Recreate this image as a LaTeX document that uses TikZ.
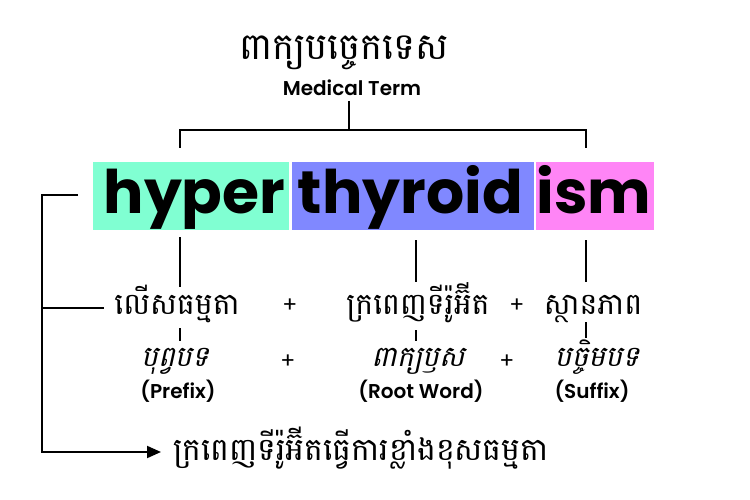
\documentclass[tikz,border=0pt]{standalone}
\usepackage{fontspec}
\setmainfont{Poppins}
\newfontfamily\popsb{Poppins}[UprightFont={* SemiBold}]
\newfontfamily\khmer[Script=Khmer]{Battambang}
\newfontfamily\khmersl[Script=Khmer,FakeSlant=0.22]{Battambang}
\usetikzlibrary{arrows.meta}
\definecolor{cgreen}{HTML}{80FFD2}
\definecolor{cblue}{HTML}{8088FF}
\definecolor{cpink}{HTML}{FF85F6}
\tikzset{
 segbox/.style={rectangle, inner sep=0pt, minimum height=68pt},
 big/.style={inner sep=0pt, anchor=base, font=\fontsize{60}{60}\selectfont\bfseries},
 kh/.style={inner sep=0pt, anchor=base, font=\khmer\fontsize{30}{30}\selectfont},
 khs/.style={inner sep=0pt, anchor=base, font=\khmersl\fontsize{28.5}{28.5}\selectfont},
 lbl/.style={inner sep=0pt, anchor=base, font=\popsb\fontsize{20}{20}\selectfont},
 plus/.style={inner sep=0pt, anchor=center, font=\fontsize{22}{22}\selectfont},
 ln/.style={line width=2pt},
}
\begin{document}
\begin{tikzpicture}[x=1pt,y=-1pt]
\useasboundingbox (0,0) rectangle (750,500);
% title
\node[kh, font=\khmer\fontsize{37}{37}\selectfont] (title) at (344,60) {ពាក្យបច្ចេកទេស};
\node[lbl, font=\popsb\fontsize{20}{20}\selectfont] (mt) at (352,96) {Medical Term};
% boxes
\node[segbox, fill=cgreen, minimum width=196pt] (bg) at (191,196) {};
\node[segbox, fill=cblue, minimum width=242pt] (bb) at (413,196) {};
\node[segbox, fill=cpink, minimum width=118pt] (bp) at (595,196) {};
\node[big] (hyper) at (194.5,214) {hyper};
\node[big] (thy) at (410.5,214) {thyroid};
\node[big] (ism) at (594,214) {ism};
% line 1
\node[kh] (k1) at (177,314) {លើសធម្មតា};
\node[plus] (p1) at (290,306) {+};
\node[kh] (k2) at (418,314) {ក្រពេញទីរ៉ូអ៊ីត};
\node[plus] (p2) at (517,306) {+};
\node[kh] (k3) at (593,314) {ស្ថានភាព};
% line 2
\node[khs] (s1) at (175,366) {បុព្វបទ};
\node[plus] (p3) at (288,362) {+};
\node[khs] (s2) at (418,366) {ពាក្យឫស};
\node[plus] (p4) at (507,362) {+};
\node[khs] (s3) at (597,366) {បច្ចិមបទ};
\node[lbl] (l1) at (178,398) {(Prefix)};
\node[lbl] (l2) at (421,398) {(Root Word)};
\node[lbl] (l3) at (592,398) {(Suffix)};
% bottom
\node[kh, anchor=base west, font=\khmer\fontsize{31.5}{31.5}\selectfont] (res) at (173,460) {ក្រពេញទីរ៉ូអ៊ីតធ្វើការខ្លាំងខុសធម្មតា};
% connector coordinates
\coordinate (mtb) at (349,101);
\coordinate (brc) at (349,130);
\coordinate (brl) at (180,130);
\coordinate (brr) at (586,130);
\coordinate (brld) at (180,148);
\coordinate (brrd) at (586,148);
\coordinate (lt) at (78,195);
\coordinate (ltc) at (42,195);
\coordinate (lbc) at (42,452);
\coordinate (arr) at (161,452);
\coordinate (lm) at (42,308);
\coordinate (lme) at (104,308);
\draw[ln] (mtb) -- (brc);
\draw[ln] (brld) -- (brl) -- (brr) -- (brrd);
\draw[ln,-{Triangle[length=14pt,width=12pt]}] (lt) -- (ltc) -- (lbc) -- (arr);
\draw[ln] (lm) -- (lme);
\draw[ln] (180,237) -- (180,287);
\draw[ln] (416,240) -- (416,282);
\draw[ln] (586,240) -- (586,282);
\draw[ln] (180,328) -- (180,341);
\draw[ln] (416,330) -- (416,341);
\draw[ln] (586,322) -- (586,338);
\end{tikzpicture}
\end{document}
